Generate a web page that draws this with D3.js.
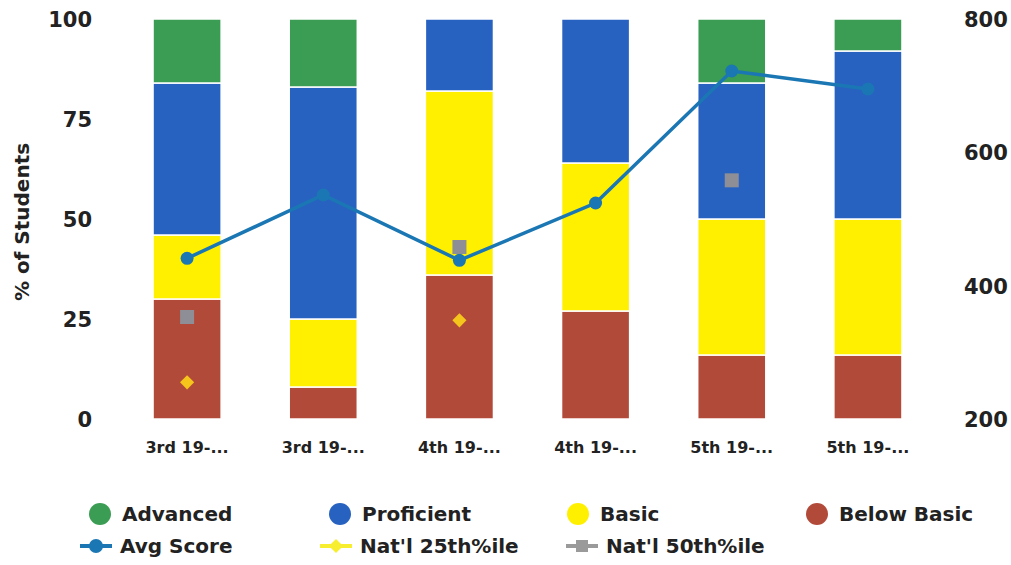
<!DOCTYPE html>
<html>
<head>
<meta charset="utf-8">
<script src="https://cdn.jsdelivr.net/npm/d3@7"></script>
<style>
  body { margin: 0; background: #fff; }
  svg { display: block; }
  .tick-label { font-family: "DejaVu Sans", "Liberation Sans", sans-serif; font-weight: bold; fill: #222; }
</style>
</head>
<body>
<div id="chart"></div>
<script>
  //-----------------------------DATA-----------------------------//
  const categories = ["3rd 19-...", "3rd 19-...", "4th 19-...", "4th 19-...", "5th 19-...", "5th 19-..."];
  const belowBasic = [30, 8, 36, 27, 16, 16];
  const basic = [16, 17, 46, 37, 34, 34];
  const proficient = [38, 58, 18, 36, 34, 42];
  const advanced = [16, 17, 0, 0, 16, 8];
  const avgScore = [441, 536, 438, 524, 722, 695];
  const nat25 = [255, null, 348, null, null, null];
  const nat50 = [353, null, 458, null, 558, null];
  const leftTicks = [0, 25, 50, 75, 100];
  const rightTicks = [200, 400, 600, 800];

  //------------------------1. PREPARATION------------------------//
  const width = 1011;
  const height = 565;
  const plotTop = 19;
  const plotBottom = 419;

  const svg = d3.select("#chart").append("svg")
    .attr("width", width)
    .attr("height", height);

  const keys = ["belowBasic", "basic", "proficient", "advanced"];
  const colors = {
    advanced: "#3b9c53",
    proficient: "#2762c0",
    basic: "#fff000",
    belowBasic: "#b24a3a"
  };
  const rows = categories.map((c, i) => {
    return {
      idx: i,
      belowBasic: belowBasic[i],
      basic: basic[i],
      proficient: proficient[i],
      advanced: advanced[i]
    };
  });

  //----------------------------SCALES----------------------------//
  const xScale = d3.scaleBand()
    .domain(d3.range(categories.length))
    .range([119, 936])
    .paddingInner(0.5)
    .paddingOuter(0.25);
  const yScale = d3.scaleLinear().domain([0, 100]).range([plotBottom, plotTop]);
  const y2Scale = d3.scaleLinear().domain([200, 800]).range([plotBottom, plotTop]);

  //-------------------------2. DRAWING---------------------------//
  //-----------------------------BARS-----------------------------//
  const stack = d3.stack().keys(keys)(rows);
  svg.append("g")
    .selectAll("g")
    .data(stack)
    .enter()
    .append("g")
    .attr("fill", d => colors[d.key])
    .selectAll("rect")
    .data(d => d.filter(s => s[1] - s[0] > 0))
    .enter()
    .append("rect")
    .attr("x", d => xScale(d.data.idx))
    .attr("width", xScale.bandwidth())
    .attr("y", d => yScale(d[1]))
    .attr("height", d => yScale(d[0]) - yScale(d[1]))
    .attr("stroke", "#fff")
    .attr("stroke-width", 1.5);

  //-----------------------------AXES-----------------------------//
  const yaxis = d3.axisLeft(yScale).tickValues(leftTicks).tickSize(0).tickPadding(0);
  svg.append("g")
    .attr("transform", "translate(92,0)")
    .call(yaxis)
    .call(g => g.select(".domain").remove())
    .selectAll("text")
    .attr("class", "tick-label")
    .style("font-size", "21px")
    .attr("dy", "0.35em");

  const y2axis = d3.axisRight(y2Scale).tickValues(rightTicks).tickSize(0).tickPadding(0);
  svg.append("g")
    .attr("transform", "translate(964,0)")
    .call(y2axis)
    .call(g => g.select(".domain").remove())
    .selectAll("text")
    .attr("class", "tick-label")
    .style("font-size", "21px")
    .attr("dy", "0.35em");

  const xaxis = d3.axisBottom(xScale).tickFormat(i => categories[i]).tickSize(0).tickPadding(0);
  svg.append("g")
    .attr("transform", "translate(0,447)")
    .call(xaxis)
    .call(g => g.select(".domain").remove())
    .selectAll("text")
    .attr("class", "tick-label")
    .style("font-size", "16px")
    .attr("dy", "0.35em");

  svg.append("text")
    .attr("class", "tick-label")
    .attr("transform", "translate(29,222) rotate(-90)")
    .style("text-anchor", "middle")
    .style("font-size", "20px")
    .text("% of Students");

  //----------------------------LINES-----------------------------//
  const cx = i => xScale(i) + xScale.bandwidth() / 2;
  const line = d3.line()
    .x((d, i) => cx(i))
    .y(d => y2Scale(d));
  svg.append("path")
    .attr("d", line(avgScore))
    .attr("fill", "none")
    .attr("stroke", "#1b77b4")
    .attr("stroke-width", 3.5);
  svg.append("g")
    .selectAll("circle")
    .data(avgScore)
    .enter()
    .append("circle")
    .attr("cx", (d, i) => cx(i))
    .attr("cy", d => y2Scale(d))
    .attr("r", 6.5)
    .attr("fill", "#1b77b4");

  svg.append("g")
    .selectAll("rect")
    .data(nat25.map((v, i) => ({v: v, i: i})).filter(d => d.v !== null))
    .enter()
    .append("rect")
    .attr("x", -5)
    .attr("y", -5)
    .attr("width", 10)
    .attr("height", 10)
    .attr("transform", d => "translate(" + cx(d.i) + "," + y2Scale(d.v) + ") rotate(45)")
    .attr("fill", "#f6c51c");

  svg.append("g")
    .selectAll("rect")
    .data(nat50.map((v, i) => ({v: v, i: i})).filter(d => d.v !== null))
    .enter()
    .append("rect")
    .attr("x", d => cx(d.i) - 7)
    .attr("y", d => y2Scale(d.v) - 7)
    .attr("width", 14)
    .attr("height", 14)
    .attr("fill", "#8e8e96");

  //----------------------------LEGEND----------------------------//
  const legendFont = "20px";
  const row1 = [
    ["Advanced", colors.advanced, 100],
    ["Proficient", colors.proficient, 340],
    ["Basic", colors.basic, 578],
    ["Below Basic", colors.belowBasic, 817]
  ];
  const lg1 = svg.append("g").selectAll("g")
    .data(row1)
    .enter()
    .append("g")
    .attr("transform", d => "translate(" + d[2] + ",514)");
  lg1.append("circle").attr("r", 11).attr("fill", d => d[1]);
  lg1.append("text")
    .attr("class", "tick-label")
    .attr("x", 22)
    .attr("dy", "0.35em")
    .style("font-size", legendFont)
    .text(d => d[0]);

  const row2 = [
    ["Avg Score", "#1b77b4", 96, "circle"],
    ["Nat'l 25th%ile", "#f8ee30", 336, "diamond"],
    ["Nat'l 50th%ile", "#9a9a9a", 582, "square"]
  ];
  const lg2 = svg.append("g").selectAll("g")
    .data(row2)
    .enter()
    .append("g")
    .attr("transform", d => "translate(" + d[2] + ",546)");
  lg2.append("line")
    .attr("x1", -16).attr("x2", 16)
    .attr("stroke", d => d[1])
    .attr("stroke-width", 4);
  lg2.filter(d => d[3] === "circle").append("circle").attr("r", 7).attr("fill", d => d[1]);
  lg2.filter(d => d[3] === "diamond").append("rect")
    .attr("x", -5).attr("y", -5).attr("width", 10).attr("height", 10)
    .attr("transform", "rotate(45)").attr("fill", d => d[1]);
  lg2.filter(d => d[3] === "square").append("rect")
    .attr("x", -6).attr("y", -6).attr("width", 12).attr("height", 12)
    .attr("fill", d => d[1]);
  lg2.append("text")
    .attr("class", "tick-label")
    .attr("x", 24)
    .attr("dy", "0.35em")
    .style("font-size", legendFont)
    .text(d => d[0]);
</script>
</body>
</html>
